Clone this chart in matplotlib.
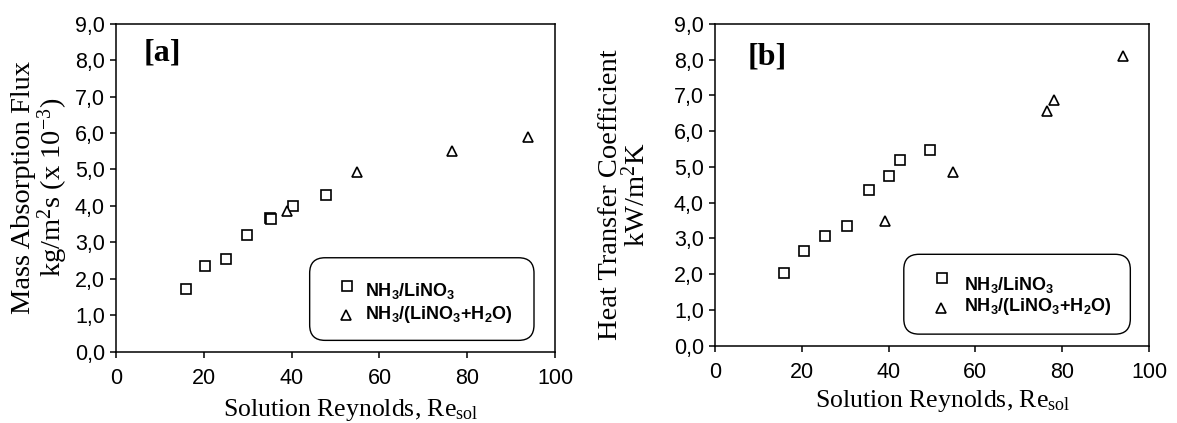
import matplotlib
matplotlib.use("Agg")
import matplotlib.pyplot as plt
from matplotlib.patches import FancyBboxPatch

plt.rcParams['mathtext.fontset'] = 'custom'
plt.rcParams['mathtext.rm'] = 'Liberation Serif'
plt.rcParams['mathtext.it'] = 'Liberation Serif:italic'
plt.rcParams['mathtext.bf'] = 'Liberation Sans:bold'
plt.rcParams['font.family'] = ['Liberation Sans', 'DejaVu Sans']

# ---------------- data ----------------
x_ticks = [0, 20, 40, 60, 80, 100]
y_ticks = [0, 1, 2, 3, 4, 5, 6, 7, 8, 9]
y_tick_labels = ["0,0", "1,0", "2,0", "3,0", "4,0", "5,0", "6,0", "7,0", "8,0", "9,0"]

series_names = [r"$\mathbf{NH_3/LiNO_3}$", r"$\mathbf{NH_3/(LiNO_3{+}H_2O)}$"]

# panel [a]: mass absorption flux
re_a_sq = [15.9, 20.3, 25.1, 29.9, 35.0, 35.2, 40.4, 47.9]
flux_a_sq = [1.71, 2.34, 2.53, 3.20, 3.67, 3.63, 4.00, 4.29]
re_a_tri = [39.0, 54.9, 76.5, 93.8]
flux_a_tri = [3.85, 4.93, 5.50, 5.90]

# panel [b]: heat transfer coefficient
re_b_sq = [16.0, 20.6, 25.4, 30.3, 35.4, 40.0, 42.6, 49.6]
htc_b_sq = [2.02, 2.65, 3.06, 3.36, 4.35, 4.75, 5.20, 5.48]
re_b_tri = [39.2, 54.9, 76.5, 78.0, 94.0]
htc_b_tri = [3.48, 4.87, 6.56, 6.88, 8.09]

xlabel = r"Solution Reynolds, Re$_{\mathrm{sol}}$"
ylabel_a = "Mass Absorption Flux\n" + r"kg/m$^{2}$s (x 10$^{-3}$)"
ylabel_b = "Heat Transfer Coefficient\n" + r"kW/m$^{2}$K"

# ---------------- figure ----------------
fig = plt.figure(figsize=(11.77, 4.23), dpi=100)
ax1 = fig.add_axes([0.0986, 0.169, 0.373, 0.775])
ax2 = fig.add_axes([0.6075, 0.1827, 0.3687, 0.761])

SERIF = ['Liberation Serif', 'DejaVu Serif']
sq_kw = dict(linestyle='none', marker='s', markersize=6.8, markerfacecolor='white',
             markeredgecolor='black', markeredgewidth=1.2)
tri_kw = dict(linestyle='none', marker='^', markersize=6.5, markerfacecolor='white',
              markeredgecolor='black', markeredgewidth=1.2)


def style_axes(ax, ylabel, ylab_x, ylab_y, xlab_x, xlab_y, tag, tag_x, tag_y):
    ax.set_xlim(0, 100)
    ax.set_ylim(0, 9)
    ax.set_xticks(x_ticks)
    ax.set_xticklabels([str(v) for v in x_ticks])
    ax.set_yticks(y_ticks)
    ax.set_yticklabels(y_tick_labels)
    for sp in ax.spines.values():
        sp.set_linewidth(1.1)
        sp.set_color('black')
    ax.tick_params(axis='both', direction='out', length=4, width=1.1,
                   labelsize=15.5, colors='black')
    ax.tick_params(axis='x', pad=8)
    ax.tick_params(axis='y', pad=4)
    ax.set_xlabel(xlabel, fontsize=18.5, family=SERIF)
    ax.xaxis.set_label_coords(xlab_x, xlab_y)
    ax.set_ylabel(ylabel, fontsize=20.5, family=SERIF, linespacing=0.95)
    ax.yaxis.set_label_coords(ylab_x, ylab_y)
    ax.text(tag_x, tag_y, tag, transform=ax.transAxes, fontsize=23,
            fontweight='bold', family=SERIF, ha='left', va='center')


def legend_box(ax, box, sq_pos, tri_pos, txt_x, txt_y1, txt_y2):
    bb = ax.get_window_extent()
    aspect = bb.width / bb.height
    x0, x1, y0, y1 = box
    patch = FancyBboxPatch((x0, y0), x1 - x0, y1 - y0,
                           boxstyle="round,pad=0,rounding_size=0.035",
                           mutation_aspect=aspect, transform=ax.transAxes,
                           facecolor='white', edgecolor='black', linewidth=1.0,
                           zorder=3)
    ax.add_patch(patch)
    ax.plot([sq_pos[0]], [sq_pos[1]], transform=ax.transAxes, clip_on=False,
            zorder=4, **sq_kw)
    ax.plot([tri_pos[0]], [tri_pos[1]], transform=ax.transAxes, clip_on=False,
            zorder=4, **tri_kw)
    ax.text(txt_x, txt_y1, series_names[0], transform=ax.transAxes, fontsize=13,
            ha='left', va='center', zorder=5)
    ax.text(txt_x, txt_y2, series_names[1], transform=ax.transAxes, fontsize=13,
            ha='left', va='center', zorder=5)


# panel a
ax1.plot(re_a_sq, flux_a_sq, **sq_kw)
ax1.plot(re_a_tri, flux_a_tri, **tri_kw)
style_axes(ax1, ylabel_a, -0.106, 0.5, 0.535, -0.14, "[a]", 0.062, 0.91)
legend_box(ax1, (0.441, 0.952, 0.034, 0.286), (0.526, 0.201), (0.523, 0.112),
           0.566, 0.186, 0.114)

# panel b
ax2.plot(re_b_sq, htc_b_sq, **sq_kw)
ax2.plot(re_b_tri, htc_b_tri, **tri_kw)
style_axes(ax2, ylabel_b, -0.148, 0.47, 0.525, -0.13, "[b]", 0.076, 0.897)
legend_box(ax2, (0.435, 0.957, 0.036, 0.284), (0.522, 0.209), (0.521, 0.116),
           0.574, 0.188, 0.121)

fig.savefig("out.png", dpi=100)
